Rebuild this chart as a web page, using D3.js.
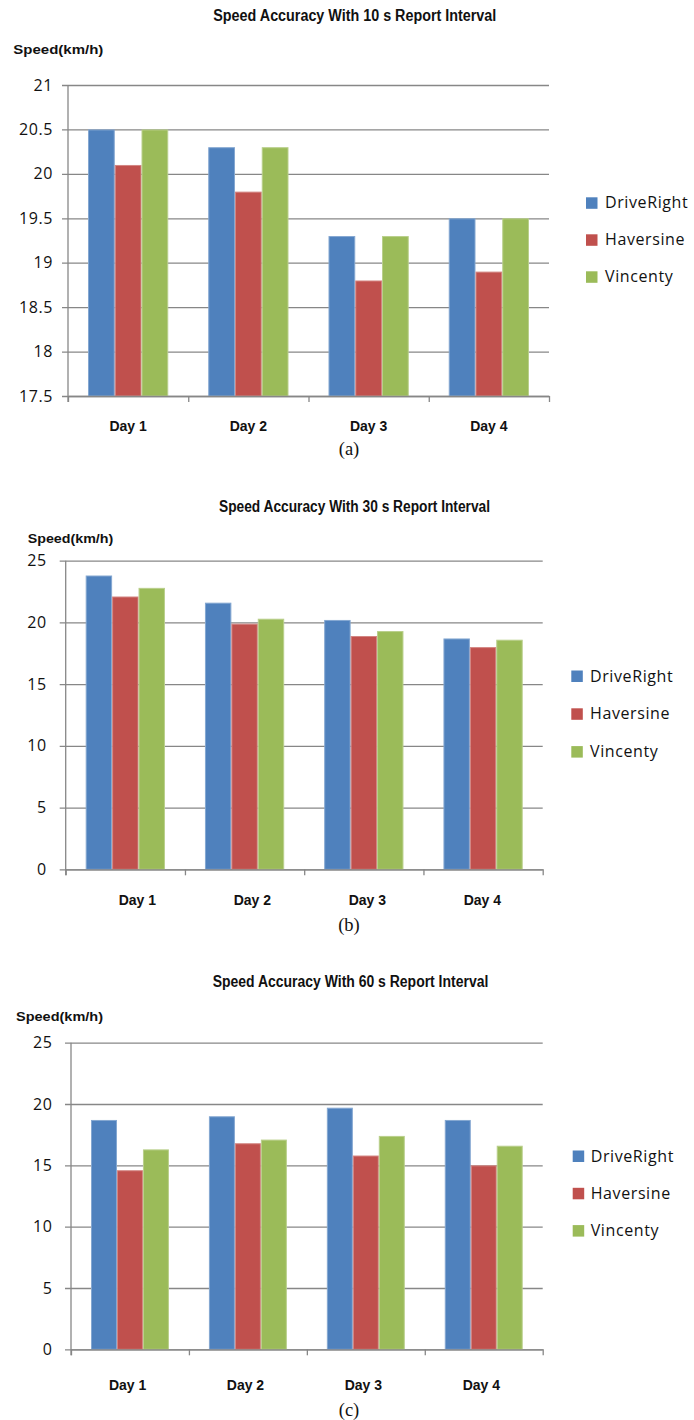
<!DOCTYPE html>
<html>
<head>
<meta charset="utf-8">
<script src="https://cdn.jsdelivr.net/npm/d3@7"></script>
<style>
  html, body { margin: 0; padding: 0; background: #fff; }
  svg { display: block; }
  .title { font-family: "Liberation Sans", Arial, sans-serif; font-weight: bold; font-size: 16px; fill: #111; }
  .ylabel { font-family: "Liberation Sans", Arial, sans-serif; font-weight: bold; font-size: 13px; fill: #111; }
  .day { font-family: "Liberation Sans", Arial, sans-serif; font-weight: bold; font-size: 14px; fill: #111; }
  .caption { font-family: "Liberation Serif", "Times New Roman", serif; font-size: 18.5px; fill: #111; }
  .legend text { font-family: "Open Sans", sans-serif; font-size: 16px; letter-spacing: 0.6px; fill: #111; }
  .yaxis text { font-family: "Open Sans", sans-serif; font-size: 16px; letter-spacing: 0.6px; fill: #111; }
</style>
</head>
<body>
<svg id="chart" width="694" height="1420"></svg>
<script>
/* ---------- data ---------- */
const days = ["Day 1", "Day 2", "Day 3", "Day 4"];
const seriesNames = ["DriveRight", "Haversine", "Vincenty"];
const seriesColors = ["#4F81BD", "#C0504D", "#9BBB59"];

const drive10 = [20.5, 20.3, 19.3, 19.5];
const haver10 = [20.1, 19.8, 18.8, 18.9];
const vinc10  = [20.5, 20.3, 19.3, 19.5];

const drive30 = [23.8, 21.6, 20.2, 18.7];
const haver30 = [22.1, 19.9, 18.9, 18.0];
const vinc30  = [22.8, 20.3, 19.3, 18.6];

const drive60 = [18.7, 19.0, 19.7, 18.7];
const haver60 = [14.6, 16.8, 15.8, 15.0];
const vinc60  = [16.3, 17.1, 17.4, 16.6];

const ticks10 = [17.5, 18, 18.5, 19, 19.5, 20, 20.5, 21];
const ticks30 = [0, 5, 10, 15, 20, 25];
const ticks60 = [0, 5, 10, 15, 20, 25];

const titles = [
  "Speed Accuracy With 10 s Report Interval",
  "Speed Accuracy With 30 s Report Interval",
  "Speed Accuracy With 60 s Report Interval"
];
const captions = ["(a)", "(b)", "(c)"];
const yLabel = "Speed(km/h)";

/* ---------- panel layout ---------- */
const panels = [
  { series: [drive10, haver10, vinc10], ticks: ticks10, domain: [17.5, 21],
    left: 68, right: 549, top: 85, bottom: 396, tickPad: 15,
    title: { x: 213.3, y: 21, w: 283 }, ylab: { x: 13.3, y: 54, w: 90 },
    dayY: 431, labelShift: 0, capY: 455,
    legend: { x: 586, y: 202.8, gap: 37, tx: 605 } },
  { series: [drive30, haver30, vinc30], ticks: ticks30, domain: [0, 25],
    left: 65.7, right: 542.7, top: 560.7, bottom: 869.3, tickPad: 19,
    title: { x: 219, y: 512, w: 271 }, ylab: { x: 27.7, y: 543.3, w: 85.6 },
    dayY: 905, labelShift: 12, labelStep: 115, capY: 931,
    legend: { x: 571.3, y: 676, gap: 37.8, tx: 590 } },
  { series: [drive60, haver60, vinc60], ticks: ticks60, domain: [0, 25],
    left: 71, right: 542.7, top: 1042.7, bottom: 1349.3, tickPad: 18.5,
    title: { x: 212.7, y: 986.7, w: 275.6 }, ylab: { x: 16, y: 1021, w: 87 },
    dayY: 1390, labelShift: -2.4, capY: 1416,
    legend: { x: 572.7, y: 1156, gap: 37.3, tx: 590.7 } }
];

const gridColor = "#878787";
const svg = d3.select("#chart");

panels.forEach((p, pi) => {
  const w = p.right - p.left, h = p.bottom - p.top;
  const g = svg.append("g").attr("transform", `translate(${p.left},${p.top})`);

  const x0 = d3.scaleBand().domain(days).range([0, w]);
  const inset = 20;
  const x1 = d3.scaleBand().domain(seriesNames).range([inset, x0.bandwidth() - inset]);
  const y = d3.scaleLinear().domain(p.domain).range([h, 0]);

  /* gridlines + y tick labels */
  const gy = g.append("g").attr("class", "yaxis")
    .call(d3.axisLeft(y).tickValues(p.ticks).tickSize(-w).tickPadding(p.tickPad)
      .tickFormat(d => String(d)));
  gy.select(".domain").remove();
  gy.selectAll(".tick line").attr("x1", -6).attr("stroke", gridColor).attr("stroke-width", 1.3);

  /* bars */
  const groups = g.append("g").selectAll("g").data(days).join("g")
    .attr("transform", d => `translate(${x0(d)},0)`);
  groups.selectAll("rect")
    .data((d, di) => p.series.map((s, si) => ({ name: seriesNames[si], v: s[di], c: seriesColors[si] })))
    .join("rect")
    .attr("x", d => x1(d.name) + 0.5)
    .attr("width", x1.bandwidth() - 1)
    .attr("y", d => y(d.v) + 0.5)
    .attr("height", d => y(p.domain[0]) - y(d.v) - 0.5)
    .attr("fill", d => d.c)
    .attr("stroke", d => d3.interpolateRgb(d.c, "#ffffff")(0.3))
    .attr("stroke-width", 1);

  /* axes lines */
  const xt = d3.scaleLinear().domain([0, days.length]).range([0, w]);
  const gx = g.append("g").attr("transform", `translate(0,${h})`)
    .call(d3.axisBottom(xt).tickValues(d3.range(days.length + 1)).tickSize(6).tickSizeOuter(0).tickFormat(""));
  gx.select(".domain").attr("stroke", gridColor).attr("stroke-width", 1.3);
  gx.selectAll(".tick line").attr("stroke", gridColor).attr("stroke-width", 1.3);
  g.append("line").attr("x1", 0).attr("x2", 0).attr("y1", 0).attr("y2", h + 6)
    .attr("stroke", gridColor).attr("stroke-width", 1.3);

  /* day labels */
  const step = p.labelStep || x0.bandwidth();
  const xl = d3.scaleBand().domain(days)
    .range([p.labelShift + (x0.bandwidth() - step) / 2, p.labelShift + (x0.bandwidth() - step) / 2 + step * days.length]);
  g.append("g").selectAll("text").data(days).join("text")
    .attr("class", "day")
    .attr("x", d => xl(d) + xl.bandwidth() / 2)
    .attr("y", p.dayY - p.top)
    .attr("text-anchor", "middle")
    .text(d => d);

  /* titles */
  svg.append("text").attr("class", "title")
    .attr("x", p.title.x).attr("y", p.title.y)
    .attr("textLength", p.title.w).attr("lengthAdjust", "spacingAndGlyphs")
    .text(titles[pi]);
  svg.append("text").attr("class", "ylabel")
    .attr("x", p.ylab.x).attr("y", p.ylab.y)
    .attr("textLength", p.ylab.w).attr("lengthAdjust", "spacingAndGlyphs")
    .text(yLabel);
  svg.append("text").attr("class", "caption")
    .attr("x", 349).attr("y", p.capY).attr("text-anchor", "middle")
    .text(captions[pi]);

  /* legend */
  const lg = svg.append("g").attr("class", "legend");
  const items = lg.selectAll("g").data(seriesNames).join("g")
    .attr("transform", (d, i) => `translate(0,${p.legend.y + i * p.legend.gap})`);
  items.append("rect").attr("x", p.legend.x).attr("y", -5.5).attr("width", 11.5).attr("height", 11.5)
    .attr("fill", (d, i) => seriesColors[i]);
  items.append("text").attr("x", p.legend.tx).attr("y", 0).attr("dy", "0.35em").text(d => d);
});
</script>
</body>
</html>
